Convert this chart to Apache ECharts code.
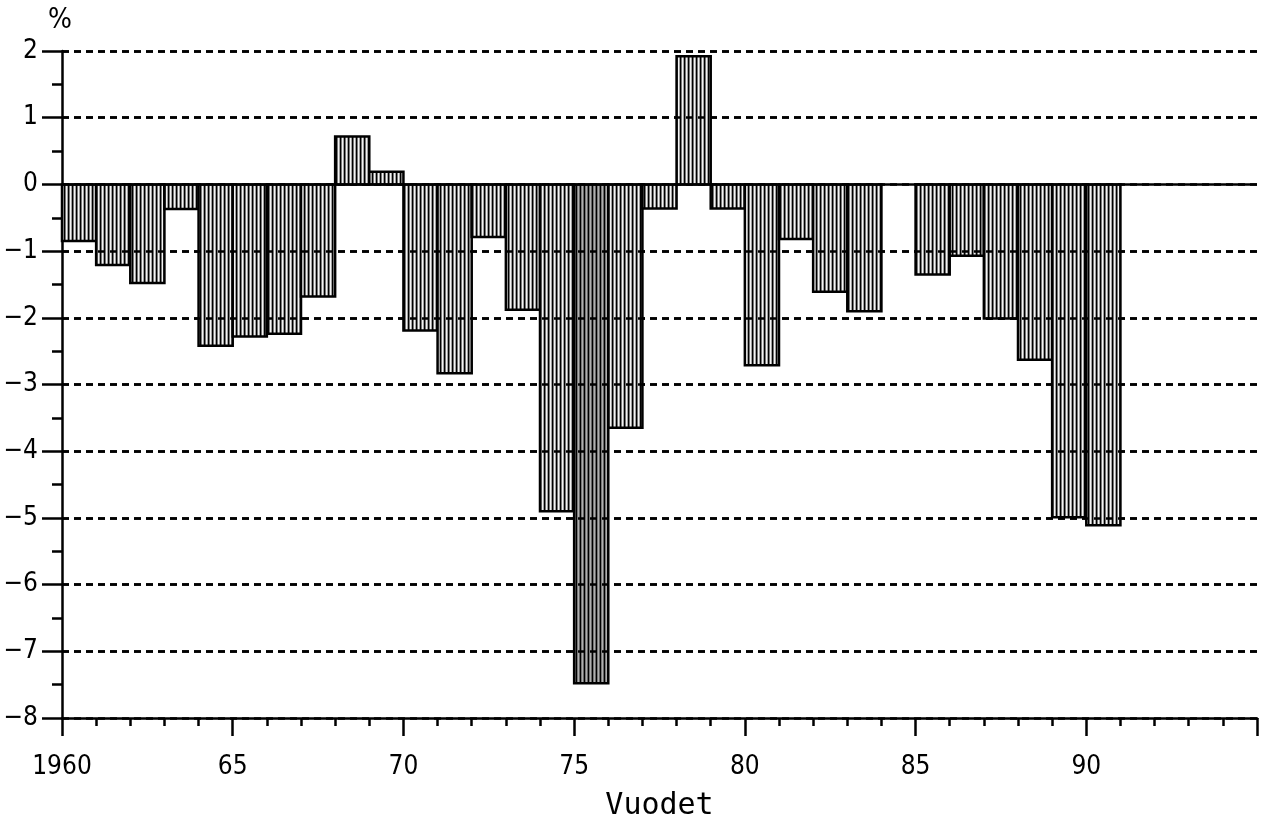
<!DOCTYPE html>
<html>
<head>
<meta charset="utf-8">
<script src="https://cdn.jsdelivr.net/npm/echarts@6/dist/echarts.min.js"></script>
<style>
html,body{margin:0;padding:0;background:#fff;}
#chart{width:1269px;height:820px;}
</style>
</head>
<body>
<div id="chart"></div>
<script>
// ---- data ----
const years = [1960,1961,1962,1963,1964,1965,1966,1967,1968,1969,
               1970,1971,1972,1973,1974,1975,1976,1977,1978,1979,
               1980,1981,1982,1983,1984,1985,1986,1987,1988,1989,1990];
const values = [-0.85,-1.21,-1.48,-0.37,-2.42,-2.28,-2.24,-1.68,0.72,0.19,
                -2.19,-2.83,-0.79,-1.88,-4.90,-7.48,-3.65,-0.36,1.92,-0.36,
                -2.71,-0.82,-1.61,-1.90,0,-1.35,-1.07,-2.01,-2.63,-4.99,-5.11];
const xTicks = [1960,1965,1970,1975,1980,1985,1990,1995];
const xTickLabels = ['1960','65','70','75','80','85','90',''];
const yGridValues = [-7,-6,-5,-4,-3,-2,-1,1,2];
const yAxisTitle = '%';
const xAxisTitle = 'Vuodet';

// ---- styles ----
const darkYear = 1975;
function makePattern(cols){
  const c = document.createElement('canvas');
  c.width = cols.length; c.height = 4;
  const ctx = c.getContext('2d');
  cols.forEach((col,i)=>{ctx.fillStyle = col; ctx.fillRect(i,0,1,4);});
  return {image: c, repeat: 'repeat'};
}
const hatch = makePattern(['#000','#777','#f4f4f4','#a0a0a0']);
const hatchDark = makePattern(['#000','#777','#b0b0b0','#666']);

const numFont = "'Liberation Sans Narrow','DejaVu Sans Condensed',sans-serif";

const chart = echarts.init(document.getElementById('chart'));
chart.setOption({
  animation: false,
  backgroundColor: '#fff',
  grid: {left: 62, right: 12, top: 51, bottom: 102, containLabel: false, outerBoundsMode: 'none'},
  xAxis: {
    type: 'value', min: 1960, max: 1995, interval: 5,
    name: xAxisTitle, nameLocation: 'middle', nameGap: 73, nameMoveOverlap: false,
    nameTextStyle: {fontFamily: "'DejaVu Sans Mono',monospace", fontSize: 30, color: '#000'},
    axisLine: {show: true, onZero: false, lineStyle: {color: '#000', width: 2.5}},
    axisTick: {show: true, length: 18, lineStyle: {color: '#000', width: 2.5}},
    minorTick: {show: true, splitNumber: 5, length: 8, lineStyle: {color: '#000', width: 2.5}},
    splitLine: {show: false},
    axisLabel: {
      margin: 36, fontSize: 26, fontFamily: numFont, color: '#000',
      formatter: function(v){ const i = xTicks.indexOf(v); return i >= 0 ? xTickLabels[i] : ''; }
    }
  },
  yAxis: {
    type: 'value', min: -8, max: 2, interval: 1,
    name: yAxisTitle, nameLocation: 'end', nameGap: 16,
    nameTextStyle: {fontSize: 28, color: '#000', fontFamily: numFont, align: 'right', padding: [0, -10, 0, 0]},
    axisLine: {show: true, lineStyle: {color: '#000', width: 2.5}},
    axisTick: {show: true, length: 20, lineStyle: {color: '#000', width: 2.5}},
    minorTick: {show: true, splitNumber: 2, length: 10, lineStyle: {color: '#000', width: 2.5}},
    splitLine: {show: true, lineStyle: {color: '#000', width: 2.5, type: [7, 5]}},
    axisLabel: {
      margin: 24, fontSize: 26, fontFamily: numFont, color: '#000',
      formatter: function(v){ return v < 0 ? '\u2212' + Math.abs(v) : String(v); }
    }
  },
  series: [{
    type: 'custom',
    data: years.map((y, i) => [y, values[i]]),
    renderItem: function(params, api){
      const x0 = api.value(0), v = api.value(1);
      if (!v) return null;
      const p0 = api.coord([x0, 0]);
      const p1 = api.coord([x0 + 1, v]);
      return {
        type: 'rect',
        shape: {x: p0[0], y: Math.min(p0[1], p1[1]), width: p1[0] - p0[0], height: Math.abs(p1[1] - p0[1])},
        style: {fill: x0 === darkYear ? hatchDark : hatch, stroke: '#000', lineWidth: 2.5}
      };
    },
    z: 1
  }, {
    type: 'line',
    data: [],
    z: 5,
    silent: true,
    markLine: {
      silent: true, symbol: 'none', label: {show: false}, animation: false,
      data: yGridValues.map(v => ({yAxis: v, lineStyle: {color: '#000', width: 2.5, type: [7, 5]}}))
        .concat([{yAxis: 0, lineStyle: {color: '#000', width: 2.5, type: 'solid'}}])
    }
  }]
});
</script>
</body>
</html>
